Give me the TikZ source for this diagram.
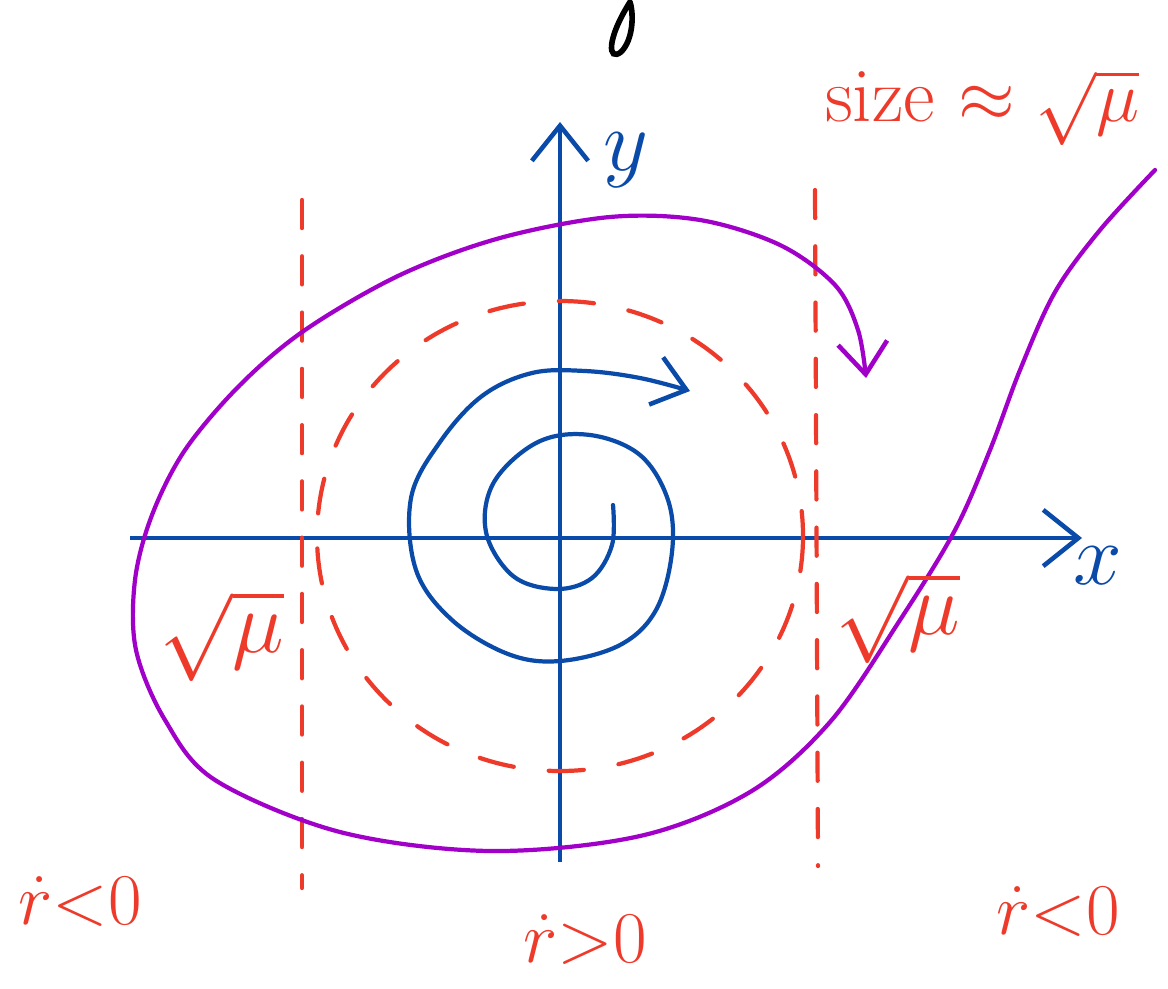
\documentclass[tikz,border=0pt]{standalone}
\usepackage{amsmath}
\usetikzlibrary{arrows.meta}

\definecolor{inkblue}{HTML}{0A4AA8}
\definecolor{inkred}{HTML}{EE3A2A}
\definecolor{inkpurple}{HTML}{A000C8}

\tikzset {
  axis style/.style = {
    draw=inkblue,
    line width=1.1pt,
    -{Straight Barb[length=10pt,width=16pt,line width=1.3pt]}
  },
  spiral style/.style = {
    draw=inkblue,
    line width=1.2pt,
    line cap=round
  },
  limit style/.style = {
    draw=inkred,
    line width=1.2pt,
    line cap=round,
    dash pattern=on 8pt off 8pt
  },
  orbit style/.style = {
    draw=inkpurple,
    line width=1.2pt,
    line cap=round
  },
  red label/.style = {
    text=inkred,
    inner sep=1pt,
    font=\fontsize{20}{24}\selectfont
  },
  blue label/.style = {
    text=inkblue,
    font=\fontsize{28}{32}\selectfont
  }
}

\begin{document}
\begin{tikzpicture}[x=0.01cm, y=-0.01cm]

\useasboundingbox (0,0) rectangle (1168,988);

% --- Fragment at the top ---
\draw[line width=1.6pt, line cap=round] (630,2) .. controls (606,40) and (608,62) .. (621,52)
    .. controls (633,40) and (634,15) .. (630,2);

% --- Axes ---
\coordinate (O) at (560,538);
\coordinate (xmin) at (130,538);
\coordinate (xmax) at (1082,538);
\coordinate (ymin) at (560,862);
\coordinate (ymax) at (560,122);
\draw[axis style] (xmin) -- (xmax);
\draw[axis style] (ymin) -- (ymax);
\node[blue label] (ylab) at (626,160) {$y$};
\node[blue label, font=\fontsize{24}{28}\selectfont] (xlab) at (1098,566) {$x$};

% --- Strip boundaries ---
\draw[limit style] (302,200) -- (302,888);
\draw[limit style] (815,190) -- (818,866);

% --- Limit cycle (dashed) ---
\draw[limit style, dash pattern=on 10pt off 10pt] (O) ++(0,-2) ellipse (243 and 235);

% --- Spiral leaving the origin ---
\draw[spiral style, -{Straight Barb[length=9pt,width=14pt,line width=1.3pt]}]
  plot[smooth, tension=0.6] coordinates {
    (613,505) (612,545) (592,578) (556,589) (513,576) (486,532) (494,482)
    (538,442) (590,435) (640,455) (668,500) (672,552) (656,610) (620,645)
    (560,661) (508,654) (452,620) (416,570) (411,498) (440,442) (482,396)
    (532,373) (585,371) (640,378) (690,391)
  };

% --- Orbit coming from outside ---
\draw[orbit style, -{Straight Barb[length=9pt,width=14pt,line width=1.3pt]}]
  plot[smooth, tension=0.55] coordinates {
    (1155,170) (1100,230) (1055,292) (1020,370) (990,450) (955,530)
    (900,620) (830,722) (750,792) (640,836) (490,851) (340,832)
    (215,780) (165,720) (136,650) (135,580) (152,515) (185,450)
    (240,385) (305,330) (400,275) (500,238) (610,217) (700,220)
    (780,245) (835,285) (858,330) (866,378)
  };

% --- Labels ---
\node[red label, font=\fontsize{24}{28}\selectfont] (mu-left) at (222,636) {$\sqrt{\mu}$};
\node[red label, font=\fontsize{24}{28}\selectfont] (mu-right) at (898,618) {$\sqrt{\mu}$};
\node[red label, font=\fontsize{22}{26}\selectfont] (size) at (982,108) {size $\approx\sqrt{\mu}$};

\node[red label] (rdot-left) at (80,902) {$\dot{r}{<}0$};
\node[red label] (rdot-mid) at (585,940) {$\dot{r}{>}0$};
\node[red label] (rdot-right) at (1058,912) {$\dot{r}{<}0$};

\end{tikzpicture}
\end{document}
